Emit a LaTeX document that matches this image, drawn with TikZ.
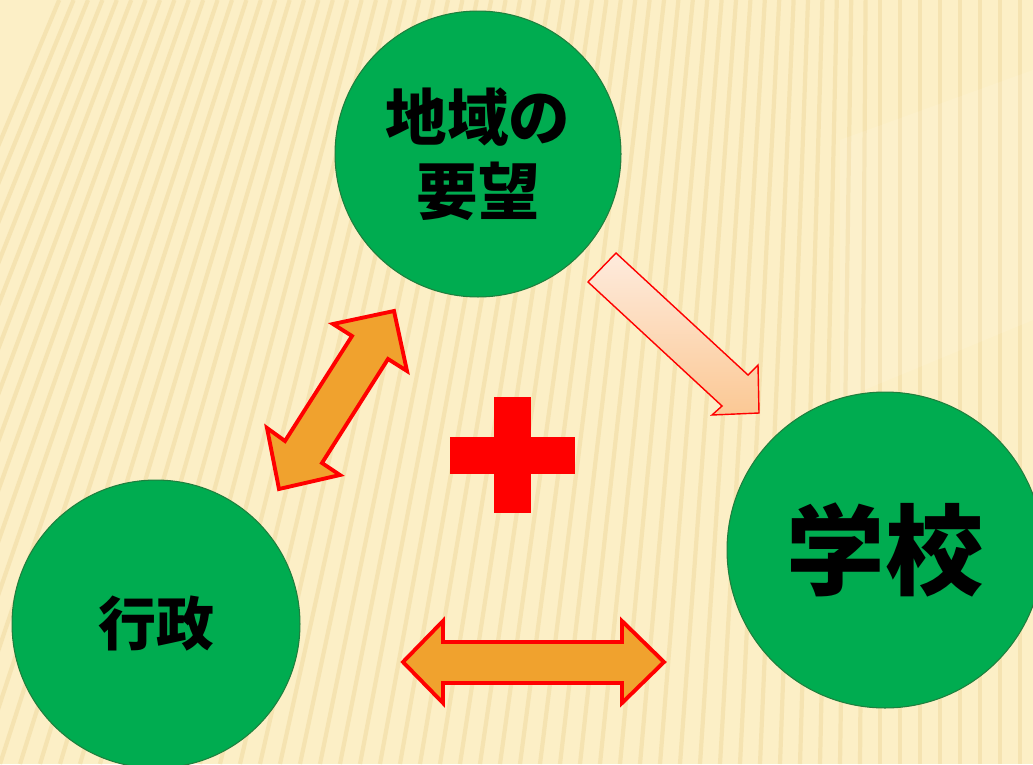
\documentclass[tikz,border=0pt]{standalone}
\usepackage{fontspec}
\usepackage{tikz}
\newfontfamily\jpfont{Noto Sans CJK JP}
\definecolor{paper}{HTML}{FCEFC6}
\definecolor{stripe}{HTML}{EBD393}
\definecolor{leafgreen}{HTML}{00AC50}
\definecolor{rimgreen}{HTML}{1F7F3E}
\definecolor{amber}{HTML}{F0A22E}
\definecolor{peachtop}{HTML}{FEEBDD}
\definecolor{peachbot}{HTML}{FBC894}
\tikzset{
  topic/.style={circle, fill=leafgreen, draw=rimgreen, line width=0.6pt,
    inner sep=0pt, font=\jpfont\bfseries, align=center, text=black},
  twoway/.style={fill=amber, draw=red, line width=2.2pt, line join=miter},
}

\begin{document}
\begin{tikzpicture}[x=0.02cm, y=-0.02cm]
    \useasboundingbox (0,0) rectangle (1033,764);
    \clip (0,0) rectangle (1033,764);
    % background
    \fill[paper] (0,0) rectangle (1033,764);
    \foreach \s in {-260,-240,...,1060} {
      \pgfmathsetmacro{\lean}{max(0, 0.28*(880-\s))}
      \draw[stripe, line width=2.4pt, opacity=0.4] (\s+\lean,0) -- (\s,764);
    }
    \fill[white, opacity=0.1] (840,140) -- (1033,70) -- (1033,320) -- (840,400) -- cycle;
    % circles
    \node[topic, minimum size=5.72cm, font=\jpfont\bfseries\fontsize{35}{42}\selectfont] (wish) at (478,154) {地域の\\要望};
    \node[topic, minimum size=6.32cm, font=\jpfont\bfseries\fontsize{56}{60}\selectfont] (school) at (885,550) {学校};
    \node[topic, minimum size=5.76cm, font=\jpfont\bfseries\fontsize{33}{40}\selectfont] (admin) at (156,624) {行政};
    % one-way arrow, wish -> school
    \fill[top color=peachtop, bottom color=peachbot, draw=red, line width=0.8pt]
      (588,282) -- (616,253) -- (748,375) -- (758,365) -- (759,413)
      -- (712,415) -- (722,406) -- cycle;
    % two-way arrow, admin <-> wish
    \draw[twoway] (352,336) -- (333,324) -- (394,311) -- (407,371) -- (388,359)
      -- (322,463) -- (340,475) -- (279,489) -- (267,428) -- (285,441) -- cycle;
    % two-way arrow, admin <-> school
    \draw[twoway] (403,662) -- (443,621) -- (443,642) -- (622,642) -- (622,621)
      -- (664,662) -- (622,703) -- (622,683) -- (443,683) -- (443,703) -- cycle;
    % plus sign
    \fill[red] (494,397) rectangle (531,513);
    \fill[red] (450,437) rectangle (575,474);
\end{tikzpicture}
\end{document}
